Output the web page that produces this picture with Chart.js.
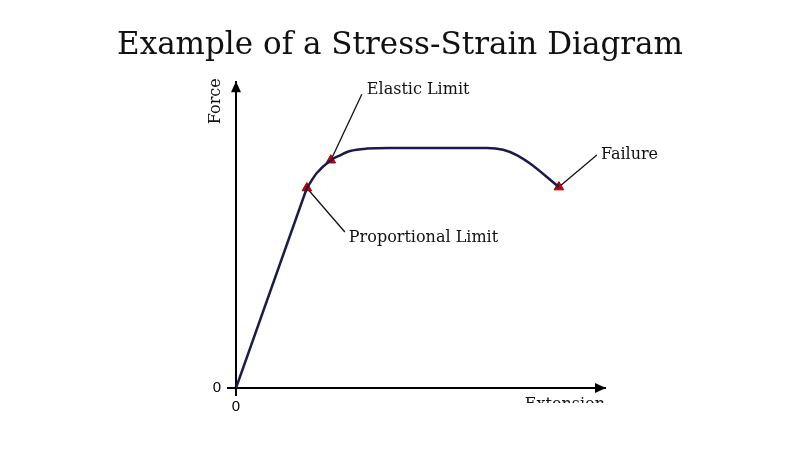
<!DOCTYPE html>
<html>
<head>
<meta charset="utf-8">
<script src="https://cdn.jsdelivr.net/npm/chart.js@4"></script>
<style>
  html, body { margin: 0; padding: 0; background: #fff; }
  #wrap { width: 800px; height: 450px; }
</style>
</head>
<body>
<div id="wrap"><canvas id="stressChart" width="800" height="450"></canvas></div>
<script>
// straight (elastic) part of the curve
const linearX = [0, 19.2];
const linearY = [0, 65.4];
// curved part after the proportional limit
const curveX = [19.2, 21.9, 25.7, 28.2, 30.9, 35.5, 41.7, 68.0, 72.4, 76.2, 79.7, 87.5];
const curveY = [65.4, 70.3, 74.5, 76.1, 77.5, 78.3, 78.5, 78.5, 77.9, 76.1, 73.4, 65.7];
// marked points
const markerLabels = ['Proportional Limit', 'Elastic Limit', 'Failure'];
const markerX = [19.2, 25.7, 87.5];
const markerY = [65.4, 74.5, 65.7];
const xTicks = [0];
const yTicks = [0];
const titleText = 'Example of a Stress-Strain Diagram';
const xTitle = 'Extension';
const yTitle = 'Force';

const serif = "'DejaVu Serif', serif";
const lineColor = '#1b1a4a';

const toPoints = (xs, ys) => xs.map((x, i) => ({ x: x, y: ys[i] }));

// label offsets (px) from each marker: [lineEndX, lineEndY, textX, textY]
const labelOffsets = [
    [38, 44, 42, 50],
    [31, -66, 36, -70],
    [38, -32, 42, -32]
];

const decorPlugin = {
    id: 'decor',
    beforeDatasetsDraw(chart) {
        const ctx = chart.ctx;
        const xs = chart.scales.x, ys = chart.scales.y;
        ctx.save();
        ctx.strokeStyle = '#111';
        ctx.lineWidth = 1.3;
        markerX.forEach((v, i) => {
            const px = xs.getPixelForValue(v);
            const py = ys.getPixelForValue(markerY[i]);
            const o = labelOffsets[i];
            ctx.beginPath();
            ctx.moveTo(px, py);
            ctx.lineTo(px + o[0], py + o[1]);
            ctx.stroke();
        });
        ctx.restore();
    },
    afterDraw(chart) {
        const ctx = chart.ctx;
        const a = chart.chartArea;
        const xs = chart.scales.x, ys = chart.scales.y;
        ctx.save();
        // arrow heads
        ctx.fillStyle = '#000';
        ctx.beginPath();
        ctx.moveTo(a.right + 1, a.bottom);
        ctx.lineTo(a.right - 10, a.bottom - 5);
        ctx.lineTo(a.right - 10, a.bottom + 5);
        ctx.closePath();
        ctx.fill();
        ctx.beginPath();
        ctx.moveTo(a.left, a.top - 1);
        ctx.lineTo(a.left - 5, a.top + 10);
        ctx.lineTo(a.left + 5, a.top + 10);
        ctx.closePath();
        ctx.fill();

        // annotation labels
        ctx.fillStyle = '#111';
        ctx.font = '16px ' + serif;
        ctx.textBaseline = 'middle';
        ctx.textAlign = 'left';
        markerLabels.forEach((lab, i) => {
            const px = xs.getPixelForValue(markerX[i]);
            const py = ys.getPixelForValue(markerY[i]);
            const o = labelOffsets[i];
            ctx.fillText(lab, px + o[2], py + o[3]);
        });

        // y axis title
        ctx.save();
        ctx.translate(a.left - 20, a.top + 19);
        ctx.rotate(-Math.PI / 2);
        ctx.textAlign = 'center';
        ctx.font = '16px ' + serif;
        ctx.fillText(yTitle, 0, 0);
        ctx.restore();

        // x axis title, cut off at the bottom like the original
        ctx.save();
        ctx.beginPath();
        ctx.rect(0, 0, chart.width, a.bottom + 15);
        ctx.clip();
        ctx.textAlign = 'right';
        ctx.textBaseline = 'top';
        ctx.font = '16px ' + serif;
        ctx.fillText(xTitle, a.right, a.bottom + 9);
        ctx.restore();
        ctx.restore();
    }
};

const axisCommon = {
    type: 'linear',
    min: 0,
    max: 100,
    border: { display: true, color: '#000', width: 2 },
    grid: { display: true, drawOnChartArea: false, drawTicks: true, tickLength: 8, color: '#000', lineWidth: 2 },
    ticks: { color: '#000', font: { family: "'Liberation Sans', Arial, sans-serif", size: 15 } }
};

new Chart(document.getElementById('stressChart'), {
    type: 'scatter',
    data: {
        datasets: [
            {
                data: toPoints(linearX, linearY),
                showLine: true,
                borderColor: lineColor,
                borderWidth: 2.5,
                tension: 0,
                pointRadius: 0
            },
            {
                data: toPoints(curveX, curveY),
                showLine: true,
                borderColor: lineColor,
                borderWidth: 2.5,
                cubicInterpolationMode: 'monotone',
                pointRadius: 0
            },
            {
                data: toPoints(markerX, markerY),
                showLine: false,
                pointStyle: 'triangle',
                pointRadius: 5.5,
                pointBackgroundColor: '#cc0000',
                pointBorderColor: '#990000',
                pointBorderWidth: 1
            }
        ]
    },
    options: {
        responsive: false,
        animation: false,
        layout: { padding: { top: 0, right: 0, bottom: 32, left: 0 } },
        plugins: {
            legend: { display: false },
            tooltip: { enabled: false },
            title: {
                display: true,
                text: titleText,
                color: '#111',
                font: { family: serif, size: 31, weight: 'normal' },
                padding: { top: 27, bottom: 18 }
            }
        },
        scales: {
            x: Object.assign({}, axisCommon, {
                ticks: Object.assign({}, axisCommon.ticks, { padding: 2 }),
                afterBuildTicks: (s) => { s.ticks = xTicks.map(v => ({ value: v })); },
                afterFit: (s) => { s.height = 30; }
            }),
            y: Object.assign({}, axisCommon, {
                grid: Object.assign({}, axisCommon.grid, { tickLength: 9 }),
                ticks: Object.assign({}, axisCommon.ticks, { padding: 6 }),
                afterBuildTicks: (s) => { s.ticks = yTicks.map(v => ({ value: v })); },
                afterFit: (s) => { s.width = 236; }
            }),
            // empty right-hand axis that only reserves the blank space on the right
            spacer: {
                type: 'linear',
                axis: 'y',
                position: 'right',
                border: { display: false },
                grid: { display: false },
                ticks: { display: false },
                afterFit: (s) => { s.width = 195; }
            }
        }
    },
    plugins: [decorPlugin]
});
</script>
</body>
</html>
